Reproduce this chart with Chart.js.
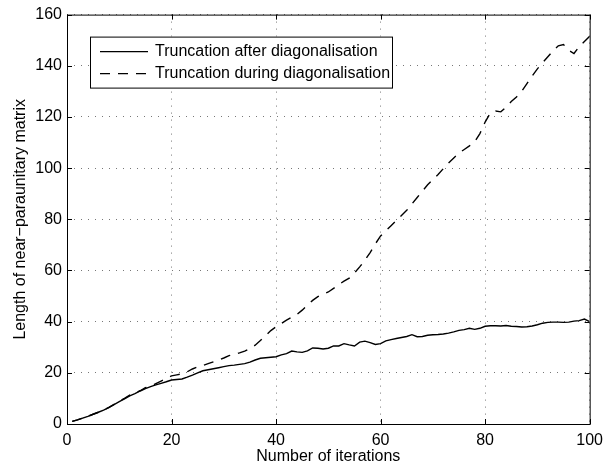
<!DOCTYPE html>
<html>
<head>
<meta charset="utf-8">
<script src="https://cdn.jsdelivr.net/npm/chart.js@4.4.0/dist/chart.umd.min.js"></script>
<style>
  body{margin:0;background:#fff}
  #caixa{width:610px;height:466px}
</style>
</head>
<body>
<div id="caixa"><canvas id="grafico"></canvas></div>
<script>
// iteracoes 1..100 (eixo x)
const iteracoes = Array.from({length:100},(_,i)=>i+1)

// comprimento da matriz - truncagem depois da diagonalizacao
const aposDiag = [
  1.0, 1.6, 2.3, 3.0, 3.8, 4.6, 5.4, 6.4, 7.6, 8.7,
  9.8, 11.0, 11.9, 12.9, 13.8, 14.6, 15.3, 15.9, 16.5, 17.2,
  17.4, 17.6, 18.3, 19.1, 20.0, 20.8, 21.2, 21.6, 22.0, 22.4,
  22.8, 23.0, 23.3, 23.6, 24.2, 25.0, 25.7, 25.9, 26.1, 26.3,
  27.0, 27.5, 28.5, 28.2, 28.0, 28.6, 29.7, 29.6, 29.3, 29.6,
  30.5, 30.5, 31.4, 30.9, 30.5, 32.0, 32.4, 31.8, 31.1, 31.4,
  32.5, 33.0, 33.4, 33.8, 34.2, 34.9, 34.1, 34.2, 34.7, 34.9,
  35.0, 35.2, 35.5, 36.0, 36.6, 36.9, 37.4, 37.0, 37.4, 38.2,
  38.4, 38.4, 38.3, 38.5, 38.2, 38.1, 37.9, 38.0, 38.3, 38.8,
  39.4, 39.7, 39.8, 39.8, 39.7, 39.8, 40.2, 40.4, 41.0, 40.0
]

// truncagem durante a diagonalizacao
const duranteDiag = [
  1.0, 1.6, 2.3, 3.0, 3.8, 4.6, 5.5, 6.5, 7.7, 8.9,
  10.0, 11.3, 12.1, 13.0, 14.2, 14.8, 15.8, 16.8, 17.8, 18.8,
  19.2, 19.6, 20.4, 21.5, 22.3, 22.9, 23.6, 24.3, 25.0, 25.8,
  26.7, 27.3, 27.8, 28.5, 29.5, 30.8, 32.6, 34.5, 36.5, 38.0,
  39.3, 40.6, 41.7, 42.8, 44.5, 46.5, 48.3, 49.8, 50.8, 51.6,
  53.0, 54.5, 55.8, 57.0, 59.0, 61.4, 64.0, 67.0, 70.4, 73.5,
  75.5, 77.5, 79.5, 81.5, 83.5, 86.0, 88.5, 91.0, 93.5, 95.5,
  97.5, 99.8, 102.0, 104.0, 105.8, 107.3, 108.7, 110.3, 113.5, 118.0,
  121.5, 122.3, 122.0, 123.8, 126.0, 127.8, 130.0, 133.0, 136.0, 138.8,
  141.2, 143.5, 145.8, 147.8, 148.3, 146.0, 144.8, 147.5, 149.5, 151.5
]

const ticksX = [0,20,40,60,80,100]
const ticksY = [0,20,40,60,80,100,120,140,160]
const nomes = ['Truncation after diagonalisation','Truncation during diagonalisation']

const fonte = {family:'"Liberation Sans", Arial, sans-serif', size:16}

// caixa em volta + tracinhos para dentro (estilo matlab)
const moldura = {
  id:'moldura',
  afterDraw(chart){
    const {ctx, chartArea:a, scales} = chart
    ctx.save()
    ctx.strokeStyle = '#000'
    ctx.lineWidth = 1
    ctx.strokeRect(a.left+0.5, a.top+0.5, a.right-a.left, a.bottom-a.top)
    ctx.beginPath()
    ticksX.forEach(v=>{
      const x = Math.round(scales.x.getPixelForValue(v))+0.5
      ctx.moveTo(x,a.bottom); ctx.lineTo(x,a.bottom-5)
      ctx.moveTo(x,a.top); ctx.lineTo(x,a.top+5)
    })
    ticksY.forEach(v=>{
      const y = Math.round(scales.y.getPixelForValue(v))+0.5
      ctx.moveTo(a.left,y); ctx.lineTo(a.left+5,y)
      ctx.moveTo(a.right,y); ctx.lineTo(a.right-5,y)
    })
    ctx.stroke()

    // legenda dentro do grafico
    const lx = a.left+23, ly = a.top+22, lw = 302, lh = 51
    ctx.fillStyle = '#fff'
    ctx.fillRect(lx,ly,lw,lh)
    ctx.strokeRect(lx+0.5,ly+0.5,lw,lh)
    ctx.font = fonte.size+'px '+fonte.family
    ctx.textBaseline = 'middle'
    chart.data.datasets.forEach((ds,i)=>{
      const y = ly+15+i*22
      ctx.beginPath()
      ctx.setLineDash(ds.borderDash||[])
      ctx.lineWidth = ds.borderWidth
      ctx.strokeStyle = ds.borderColor
      ctx.moveTo(lx+10,y); ctx.lineTo(lx+58,y)
      ctx.stroke()
      ctx.setLineDash([])
      ctx.fillStyle = '#000'
      ctx.fillText(ds.label, lx+65, y)
    })
    ctx.restore()
  }
}

const ctx = document.getElementById('grafico')
const grafico = new Chart(ctx,{
  type:'line',
  data:{
    datasets:[
      {label:nomes[0], data:iteracoes.map((x,i)=>({x:x,y:aposDiag[i]})),
       borderColor:'#000', borderWidth:1.4, pointRadius:0, tension:0},
      {label:nomes[1], data:iteracoes.map((x,i)=>({x:x,y:duranteDiag[i]})),
       borderColor:'#000', borderWidth:1.4, borderDash:[10,8], pointRadius:0, tension:0}
    ]
  },
  options:{
    responsive:true,
    maintainAspectRatio:false,
    animation:false,
    layout:{padding:{top:13,right:20,left:0,bottom:0}},
    plugins:{legend:{display:false},tooltip:{enabled:false}},
    scales:{
      x:{
        type:'linear', min:0, max:100,
        afterBuildTicks:s=>{ s.ticks = ticksX.map(v=>({value:v})) },
        afterFit:s=>{ s.height = 42 },
        grid:{color:'#777', drawTicks:false, lineWidth:1},
        border:{display:false, dash:[1,6]},
        ticks:{color:'#000', font:fonte, padding:7, maxRotation:0},
        title:{display:true, text:'Number of iterations', color:'#000', font:fonte, padding:{top:0,bottom:0}}
      },
      y:{
        type:'linear', min:0, max:160,
        afterBuildTicks:s=>{ s.ticks = ticksY.map(v=>({value:v})) },
        afterFit:s=>{ s.width = 67 },
        grid:{color:'#777', drawTicks:false, lineWidth:1},
        border:{display:false, dash:[1,6]},
        ticks:{color:'#000', font:fonte, padding:5},
        title:{display:true, text:'Length of near\u2212paraunitary matrix', color:'#000', font:fonte, padding:{top:11,bottom:0}}
      }
    }
  },
  plugins:[moldura]
})
</script>
</body>
</html>
